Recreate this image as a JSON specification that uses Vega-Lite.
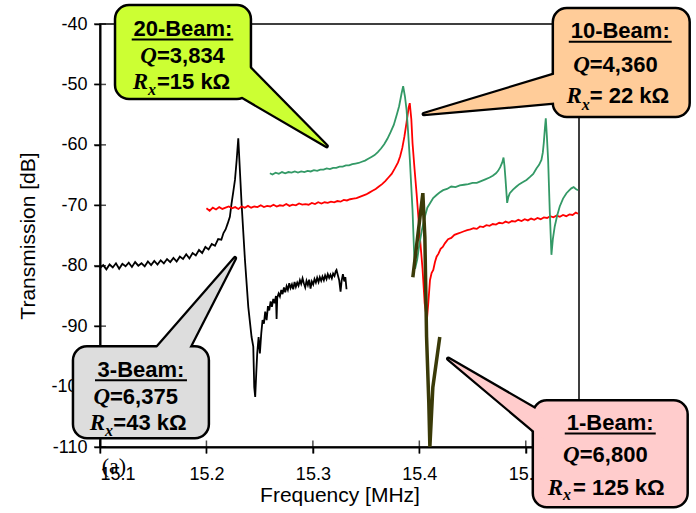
{
"$schema": "https://vega.github.io/schema/vega-lite/v6.json",
"width": 479, "height": 423,
"autosize": "none",
"padding": {"left": 100, "top": 24, "right": 117, "bottom": 66},
"background": "white",
"config": {
  "view": {"stroke": "black", "strokeWidth": 1.5},
  "axis": {"labelFont": "Liberation Sans", "labelFontSize": 18, "labelColor": "black", "titleFont": "Liberation Sans", "titleFontSize": 21, "titleFontWeight": "normal", "titleColor": "black", "domainColor": "black", "domainWidth": 2, "tickColor": "black", "tickWidth": 1.5, "tickSize": 6, "grid": false}
},
"datasets": {
  "beam3": [
    {"f":15.100,"db":-80.4},{"f":15.103,"db":-79.9},{"f":15.106,"db":-80.6},{"f":15.109,"db":-79.8},{"f":15.112,"db":-80.3},{"f":15.115,"db":-79.6},{"f":15.118,"db":-80.5},{"f":15.121,"db":-79.7},{"f":15.124,"db":-80.1},{"f":15.127,"db":-79.5},{"f":15.130,"db":-80.2},{"f":15.133,"db":-79.4},{"f":15.136,"db":-80.0},{"f":15.139,"db":-79.6},{"f":15.142,"db":-80.1},{"f":15.145,"db":-79.3},{"f":15.148,"db":-79.9},{"f":15.151,"db":-79.2},{"f":15.154,"db":-79.8},{"f":15.157,"db":-79.1},{"f":15.160,"db":-79.6},{"f":15.163,"db":-78.9},{"f":15.166,"db":-79.4},{"f":15.169,"db":-78.7},{"f":15.172,"db":-79.3},{"f":15.175,"db":-78.5},{"f":15.178,"db":-78.9},{"f":15.181,"db":-78.1},{"f":15.184,"db":-78.8},{"f":15.187,"db":-77.9},{"f":15.190,"db":-78.3},{"f":15.193,"db":-77.4},{"f":15.196,"db":-77.9},{"f":15.199,"db":-76.9},{"f":15.202,"db":-77.3},{"f":15.205,"db":-76.4},{"f":15.208,"db":-76.7},{"f":15.211,"db":-75.6},{"f":15.214,"db":-75.7},{"f":15.216,"db":-74.6},{"f":15.218,"db":-74.0},{"f":15.220,"db":-73.0},{"f":15.222,"db":-71.9},{"f":15.2236,"db":-69.7},{"f":15.2252,"db":-67.8},{"f":15.2268,"db":-65.8},{"f":15.2284,"db":-62.5},{"f":15.2299,"db":-58.9},
    {"f":15.2330,"db":-69.7},{"f":15.2362,"db":-79.1},{"f":15.2393,"db":-86.8},{"f":15.2424,"db":-91.8},{"f":15.2440,"db":-93.4},{"f":15.2449,"db":-100.1},{"f":15.2458,"db":-101.7},{"f":15.2468,"db":-97.8},{"f":15.2477,"db":-94.5},{"f":15.2490,"db":-91.8},{"f":15.2502,"db":-94.5},{"f":15.2515,"db":-91.2},{"f":15.2527,"db":-89.0},{"f":15.2540,"db":-89.6},{"f":15.2552,"db":-87.6},{"f":15.2565,"db":-89.0},{"f":15.2578,"db":-86.7},{"f":15.2590,"db":-87.4},{"f":15.2603,"db":-85.9},{"f":15.2615,"db":-86.8},{"f":15.2628,"db":-85.5},{"f":15.2640,"db":-86.2},{"f":15.2653,"db":-85.0},{"f":15.2659,"db":-88.8},{"f":15.2665,"db":-85.3},{"f":15.2678,"db":-84.6},{"f":15.2690,"db":-85.1},{"f":15.2703,"db":-84.0},{"f":15.2715,"db":-84.7},{"f":15.2728,"db":-83.6},{"f":15.2740,"db":-84.4},{"f":15.2753,"db":-83.4},{"f":15.2765,"db":-84.0},{"f":15.2778,"db":-82.9},{"f":15.2790,"db":-83.7},{"f":15.2803,"db":-83.1},{"f":15.2815,"db":-83.9},{"f":15.2828,"db":-82.7},{"f":15.2840,"db":-83.5},{"f":15.2853,"db":-82.8},{"f":15.2865,"db":-83.3},{"f":15.2878,"db":-82.4},{"f":15.2890,"db":-83.0},{"f":15.2903,"db":-82.1},{"f":15.2915,"db":-82.9},{"f":15.2928,"db":-83.6},{"f":15.2940,"db":-82.5},{"f":15.2953,"db":-83.2},{"f":15.2965,"db":-82.3},{"f":15.2978,"db":-83.8},{"f":15.2990,"db":-82.6},{"f":15.3003,"db":-83.1},{"f":15.3015,"db":-82.2},{"f":15.3028,"db":-82.8},{"f":15.3040,"db":-82.0},{"f":15.3053,"db":-82.7},{"f":15.3065,"db":-81.9},{"f":15.3078,"db":-82.5},{"f":15.3090,"db":-81.8},{"f":15.3103,"db":-82.4},{"f":15.3115,"db":-81.6},{"f":15.3128,"db":-82.2},{"f":15.3140,"db":-81.4},{"f":15.3153,"db":-82.0},{"f":15.3165,"db":-81.5},{"f":15.3178,"db":-82.1},{"f":15.3190,"db":-81.3},{"f":15.3203,"db":-81.7},{"f":15.3215,"db":-80.9},{"f":15.3222,"db":-80.7},{"f":15.3235,"db":-81.6},{"f":15.3247,"db":-82.4},{"f":15.3260,"db":-84.3},{"f":15.3270,"db":-82.5},{"f":15.3282,"db":-81.4},{"f":15.3295,"db":-82.6},{"f":15.3305,"db":-81.9},{"f":15.3316,"db":-83.9}
  ],
  "beam10": [
    {"f":15.200,"db":-70.5},{"f":15.203,"db":-70.9},{"f":15.206,"db":-70.4},{"f":15.209,"db":-70.7},{"f":15.212,"db":-70.3},{"f":15.215,"db":-70.6},{"f":15.218,"db":-70.4},{"f":15.221,"db":-70.2},{"f":15.224,"db":-70.5},{"f":15.227,"db":-70.3},{"f":15.230,"db":-70.6},{"f":15.233,"db":-70.2},{"f":15.236,"db":-70.4},{"f":15.239,"db":-70.1},{"f":15.242,"db":-70.4},{"f":15.245,"db":-70.2},{"f":15.248,"db":-70.3},{"f":15.251,"db":-70.0},{"f":15.254,"db":-70.3},{"f":15.257,"db":-70.1},{"f":15.260,"db":-70.2},{"f":15.263,"db":-69.9},{"f":15.266,"db":-70.2},{"f":15.269,"db":-70.0},{"f":15.272,"db":-70.1},{"f":15.275,"db":-69.8},{"f":15.278,"db":-70.1},{"f":15.281,"db":-69.9},{"f":15.284,"db":-70.0},{"f":15.287,"db":-69.7},{"f":15.290,"db":-69.9},{"f":15.293,"db":-69.8},{"f":15.296,"db":-69.9},{"f":15.299,"db":-69.6},{"f":15.302,"db":-69.8},{"f":15.305,"db":-69.5},{"f":15.308,"db":-69.7},{"f":15.311,"db":-69.5},{"f":15.314,"db":-69.6},{"f":15.317,"db":-69.4},{"f":15.320,"db":-69.5},{"f":15.323,"db":-69.3},{"f":15.326,"db":-69.4},{"f":15.329,"db":-69.1},{"f":15.332,"db":-69.2},{"f":15.335,"db":-69.0},{"f":15.338,"db":-68.9},{"f":15.341,"db":-68.8},{"f":15.344,"db":-68.6},{"f":15.347,"db":-68.4},{"f":15.350,"db":-68.2},{"f":15.353,"db":-67.9},{"f":15.356,"db":-67.6},{"f":15.359,"db":-67.3},{"f":15.362,"db":-66.9},{"f":15.365,"db":-66.5},{"f":15.368,"db":-66.0},{"f":15.371,"db":-65.4},{"f":15.374,"db":-64.8},{"f":15.377,"db":-63.9},{"f":15.380,"db":-62.9},{"f":15.382,"db":-61.9},{"f":15.384,"db":-60.5},{"f":15.386,"db":-58.6},{"f":15.388,"db":-56.3},{"f":15.390,"db":-53.8},{"f":15.391,"db":-53.1},{"f":15.3925,"db":-55.8},{"f":15.3936,"db":-59.7},{"f":15.3955,"db":-64.0},{"f":15.3974,"db":-68.0},{"f":15.4005,"db":-75.2},{"f":15.403,"db":-80.5},{"f":15.405,"db":-86.2},{"f":15.4071,"db":-89.0},{"f":15.4085,"db":-86.0},{"f":15.410,"db":-82.4},{"f":15.4115,"db":-81.2},{"f":15.4131,"db":-80.7},{"f":15.4147,"db":-79.4},{"f":15.4162,"db":-78.5},{"f":15.418,"db":-78.0},{"f":15.420,"db":-77.2},{"f":15.422,"db":-76.9},{"f":15.424,"db":-76.3},{"f":15.427,"db":-75.6},{"f":15.430,"db":-75.4},{"f":15.433,"db":-74.9},{"f":15.436,"db":-74.7},{"f":15.439,"db":-74.5},{"f":15.442,"db":-74.3},{"f":15.445,"db":-74.1},{"f":15.448,"db":-74.0},{"f":15.451,"db":-73.8},{"f":15.454,"db":-73.9},{"f":15.457,"db":-73.5},{"f":15.460,"db":-73.6},{"f":15.463,"db":-73.3},{"f":15.466,"db":-73.4},{"f":15.469,"db":-73.1},{"f":15.472,"db":-73.2},{"f":15.475,"db":-72.9},{"f":15.478,"db":-73.0},{"f":15.481,"db":-72.7},{"f":15.484,"db":-72.9},{"f":15.487,"db":-72.6},{"f":15.490,"db":-72.7},{"f":15.493,"db":-72.4},{"f":15.496,"db":-72.6},{"f":15.499,"db":-72.3},{"f":15.502,"db":-72.5},{"f":15.505,"db":-72.2},{"f":15.508,"db":-72.4},{"f":15.511,"db":-72.1},{"f":15.514,"db":-72.3},{"f":15.517,"db":-72.0},{"f":15.520,"db":-72.1},{"f":15.523,"db":-71.8},{"f":15.526,"db":-72.0},{"f":15.529,"db":-71.7},{"f":15.532,"db":-71.9},{"f":15.535,"db":-71.6},{"f":15.538,"db":-71.8},{"f":15.541,"db":-71.5},{"f":15.544,"db":-71.6},{"f":15.547,"db":-71.2},{"f":15.549,"db":-71.4}
  ],
  "beam20": [
    {"f":15.2596,"db":-64.7},{"f":15.262,"db":-64.9},{"f":15.265,"db":-64.6},{"f":15.268,"db":-64.8},{"f":15.271,"db":-64.5},{"f":15.274,"db":-64.7},{"f":15.277,"db":-64.5},{"f":15.280,"db":-64.6},{"f":15.283,"db":-64.4},{"f":15.286,"db":-64.6},{"f":15.289,"db":-64.4},{"f":15.292,"db":-64.5},{"f":15.295,"db":-64.3},{"f":15.298,"db":-64.4},{"f":15.301,"db":-64.2},{"f":15.304,"db":-64.3},{"f":15.307,"db":-64.1},{"f":15.310,"db":-64.1},{"f":15.313,"db":-63.9},{"f":15.316,"db":-64.0},{"f":15.319,"db":-63.8},{"f":15.322,"db":-63.8},{"f":15.325,"db":-63.6},{"f":15.328,"db":-63.6},{"f":15.331,"db":-63.4},{"f":15.334,"db":-63.4},{"f":15.337,"db":-63.2},{"f":15.340,"db":-63.1},{"f":15.343,"db":-63.0},{"f":15.346,"db":-62.8},{"f":15.349,"db":-62.6},{"f":15.352,"db":-62.3},{"f":15.355,"db":-62.0},{"f":15.358,"db":-61.7},{"f":15.361,"db":-61.2},{"f":15.364,"db":-60.6},{"f":15.367,"db":-59.9},{"f":15.370,"db":-59.0},{"f":15.373,"db":-57.9},{"f":15.376,"db":-56.7},{"f":15.379,"db":-54.9},{"f":15.381,"db":-53.6},{"f":15.3833,"db":-51.5},{"f":15.3848,"db":-50.3},{"f":15.3865,"db":-52.0},{"f":15.388,"db":-54.2},{"f":15.3895,"db":-58.0},{"f":15.3911,"db":-62.5},{"f":15.3936,"db":-70.8},{"f":15.3951,"db":-77.9},{"f":15.396,"db":-80.5},{"f":15.398,"db":-79.0},{"f":15.400,"db":-76.5},{"f":15.4025,"db":-74.0},{"f":15.4052,"db":-71.9},{"f":15.4075,"db":-70.4},{"f":15.4099,"db":-69.7},{"f":15.413,"db":-68.8},{"f":15.4162,"db":-68.3},{"f":15.419,"db":-67.9},{"f":15.4224,"db":-67.5},{"f":15.426,"db":-67.3},{"f":15.430,"db":-66.9},{"f":15.434,"db":-67.0},{"f":15.438,"db":-66.7},{"f":15.442,"db":-66.6},{"f":15.446,"db":-66.5},{"f":15.450,"db":-66.3},{"f":15.454,"db":-66.3},{"f":15.458,"db":-66.0},{"f":15.462,"db":-65.7},{"f":15.466,"db":-65.4},{"f":15.469,"db":-65.1},{"f":15.472,"db":-64.7},{"f":15.474,"db":-64.3},{"f":15.476,"db":-63.7},{"f":15.4779,"db":-62.9},{"f":15.4791,"db":-62.1},{"f":15.4800,"db":-63.5},{"f":15.481,"db":-65.8},{"f":15.4825,"db":-69.6},{"f":15.4837,"db":-68.6},{"f":15.485,"db":-68.0},{"f":15.488,"db":-67.4},{"f":15.4913,"db":-66.9},{"f":15.494,"db":-66.5},{"f":15.497,"db":-66.2},{"f":15.5007,"db":-65.8},{"f":15.504,"db":-65.3},{"f":15.507,"db":-64.8},{"f":15.510,"db":-63.9},{"f":15.5125,"db":-63.3},{"f":15.5147,"db":-62.5},{"f":15.5160,"db":-61.3},{"f":15.5169,"db":-59.7},{"f":15.5180,"db":-57.2},{"f":15.5188,"db":-55.6},{"f":15.5198,"db":-58.5},{"f":15.521,"db":-62.5},{"f":15.5225,"db":-70.8},{"f":15.5241,"db":-78.2},{"f":15.5255,"db":-75.5},{"f":15.5272,"db":-73.5},{"f":15.5295,"db":-71.7},{"f":15.5319,"db":-70.2},{"f":15.535,"db":-68.9},{"f":15.5382,"db":-68.0},{"f":15.541,"db":-67.5},{"f":15.5428,"db":-67.2},{"f":15.545,"db":-67.0},{"f":15.547,"db":-67.3},{"f":15.5491,"db":-67.5}
  ],
  "beam1": [
    {"f":15.3939,"db":-81.9},{"f":15.4033,"db":-68.0},{"f":15.4052,"db":-75.3},{"f":15.4068,"db":-91.8},{"f":15.4089,"db":-102.7},{"f":15.4099,"db":-110.0},{"f":15.4127,"db":-100.1},{"f":15.4192,"db":-91.8}
  ],
  "xticks": [{"f":15.1,"db":-110},{"f":15.2,"db":-110},{"f":15.3,"db":-110},{"f":15.4,"db":-110},{"f":15.5,"db":-110}],
  "yticks": [{"f":15.1,"db":-40},{"f":15.1,"db":-50},{"f":15.1,"db":-60},{"f":15.1,"db":-70},{"f":15.1,"db":-80},{"f":15.1,"db":-90},{"f":15.1,"db":-100},{"f":15.1,"db":-110}],
  "boxes": [
    {"box":"20-Beam","f":15.1141,"f2":15.2418,"db":-36.85,"db2":-52.42},
    {"box":"10-Beam","f":15.5254,"f2":15.654,"db":-37.35,"db2":-55.4},
    {"box":"3-Beam","f":15.0746,"f2":15.2023,"db":-93.32,"db2":-108.55},
    {"box":"1-Beam","f":15.5066,"f2":15.6521,"db":-102.26,"db2":-119.98}
  ],
  "pointers": [
    {"box":"20-Beam","i":0,"f":15.3129,"db":-60.2},{"box":"20-Beam","i":1,"f":15.2352,"db":-46.29},{"box":"20-Beam","i":2,"f":15.2277,"db":-51.43},
    {"box":"10-Beam","i":0,"f":15.4042,"db":-54.9},{"box":"10-Beam","i":1,"f":15.5319,"db":-48.11},{"box":"10-Beam","i":2,"f":15.5319,"db":-52.92},
    {"box":"3-Beam","i":0,"f":15.2268,"db":-78.75},{"box":"3-Beam","i":1,"f":15.1817,"db":-94.31},{"box":"3-Beam","i":2,"f":15.1498,"db":-94.31},
    {"box":"1-Beam","i":0,"f":15.4272,"db":-95.39},{"box":"1-Beam","i":1,"f":15.5141,"db":-104.25},{"box":"1-Beam","i":2,"f":15.5216,"db":-109.38}
  ],
  "underlines": [
    {"f":15.1298,"f2":15.2252,"db":-42.57},
    {"f":15.5404,"f2":15.6371,"db":-42.93},
    {"f":15.0953,"f2":15.1817,"db":-98.95},
    {"f":15.5366,"f2":15.6221,"db":-107.78}
  ],
  "labels": [
    {"k":"title","f":15.1779,"db":-41.99,"t":"20-Beam:"},
    {"k":"sym","f":15.1535,"db":-46.46,"t":"Q"},
    {"k":"val","f":15.1535,"db":-46.46,"t":"=3,834"},
    {"k":"sym","f":15.1451,"db":-50.76,"t":"R"},
    {"k":"sub","f":15.1451,"db":-51.76,"t":"x"},
    {"k":"val","f":15.1535,"db":-50.76,"t":"=15 kΩ"},
    {"k":"title","f":15.5887,"db":-42.37,"t":"10-Beam:"},
    {"k":"sym","f":15.5601,"db":-47.9,"t":"Q"},
    {"k":"val","f":15.5601,"db":-47.9,"t":"=4,360"},
    {"k":"sym","f":15.5526,"db":-53.13,"t":"R"},
    {"k":"sub","f":15.5526,"db":-54.24,"t":"x"},
    {"k":"val","f":15.5601,"db":-53.13,"t":"= 22 kΩ"},
    {"k":"title","f":15.1385,"db":-98.4,"t":"3-Beam:"},
    {"k":"sym","f":15.1094,"db":-102.81,"t":"Q"},
    {"k":"val","f":15.1094,"db":-102.81,"t":"=6,375"},
    {"k":"sym","f":15.1047,"db":-107.11,"t":"R"},
    {"k":"sub","f":15.1047,"db":-108.22,"t":"x"},
    {"k":"val","f":15.1125,"db":-107.11,"t":"=43 kΩ"},
    {"k":"title","f":15.5793,"db":-107.23,"t":"1-Beam:"},
    {"k":"sym","f":15.5507,"db":-112.48,"t":"Q"},
    {"k":"val","f":15.5507,"db":-112.48,"t":"=6,800"},
    {"k":"sym","f":15.535,"db":-117.99,"t":"R"},
    {"k":"sub","f":15.535,"db":-118.82,"t":"x"},
    {"k":"val","f":15.5444,"db":-117.99,"t":"= 125 kΩ"},
    {"k":"note","f":15.1131,"db":-114.35,"t":"(a)"}
  ]
},
"encoding": {
  "x": {"field": "f", "type": "quantitative", "scale": {"domain": [15.1, 15.55], "nice": false, "zero": false},
        "axis": {"values": [15.1, 15.2, 15.3, 15.4, 15.5], "labelExpr": "'' + datum.value", "labelPadding": 12, "titlePadding": 1, "title": "Frequency [MHz]"}},
  "y": {"field": "db", "type": "quantitative", "scale": {"domain": [-110, -40], "nice": false, "zero": false},
        "axis": {"values": [-110, -100, -90, -80, -70, -60, -50, -40], "labelExpr": "'' + datum.value", "labelPadding": 7, "titlePadding": 12, "title": "Transmission [dB]"}}
},
"layer": [
  {"data": {"name": "xticks"}, "mark": {"type": "tick", "orient": "vertical", "size": 13, "thickness": 1.5, "color": "black"}},
  {"data": {"name": "yticks"}, "mark": {"type": "tick", "orient": "horizontal", "size": 12, "thickness": 1.5, "color": "black"}},
  {"data": {"name": "beam3"}, "mark": {"type": "line", "color": "black", "strokeWidth": 1.8}},
  {"data": {"name": "beam10"}, "mark": {"type": "line", "color": "#ff0000", "strokeWidth": 1.8}},
  {"data": {"name": "beam20"}, "mark": {"type": "line", "color": "#339966", "strokeWidth": 1.8}},
  {"data": {"name": "beam1"}, "mark": {"type": "line", "color": "#3a3a08", "strokeWidth": 3.5}},
  {"data": {"name": "pointers"}, "mark": {"type": "line", "interpolate": "linear-closed", "stroke": "black", "strokeWidth": 4.5, "strokeJoin": "round"},
   "encoding": {"order": {"field": "i"}, "fill": {"field": "box", "type": "nominal", "scale": {"domain": ["20-Beam", "10-Beam", "3-Beam", "1-Beam"], "range": ["#ccff33", "#ffcc99", "#dddddd", "#ffcccc"]}, "legend": null}}},
  {"data": {"name": "boxes"}, "mark": {"type": "rect", "stroke": "black", "strokeWidth": 2.5, "cornerRadius": 14},
   "encoding": {"x2": {"field": "f2"}, "y2": {"field": "db2"}, "fill": {"field": "box", "type": "nominal", "legend": null}}},
  {"data": {"name": "pointers"}, "mark": {"type": "line", "interpolate": "linear-closed", "strokeWidth": 0, "strokeOpacity": 0},
   "encoding": {"order": {"field": "i"}, "fill": {"field": "box", "type": "nominal", "legend": null}}},
  {"data": {"name": "underlines"}, "mark": {"type": "rule", "color": "black", "strokeWidth": 2},
   "encoding": {"x2": {"field": "f2"}}},
  {"data": {"name": "labels"}, "transform": [{"filter": "datum.k == 'title'"}],
   "mark": {"type": "text", "font": "Liberation Sans", "fontWeight": "bold", "fontSize": 22, "align": "center", "baseline": "alphabetic", "color": "black"},
   "encoding": {"text": {"field": "t"}}},
  {"data": {"name": "labels"}, "transform": [{"filter": "datum.k == 'val'"}],
   "mark": {"type": "text", "font": "Liberation Sans", "fontWeight": "bold", "fontSize": 22, "align": "left", "baseline": "alphabetic", "color": "black"},
   "encoding": {"text": {"field": "t"}}},
  {"data": {"name": "labels"}, "transform": [{"filter": "datum.k == 'sym'"}],
   "mark": {"type": "text", "font": "Liberation Serif", "fontStyle": "italic", "fontWeight": "bold", "fontSize": 23, "align": "right", "baseline": "alphabetic", "color": "black"},
   "encoding": {"text": {"field": "t"}}},
  {"data": {"name": "labels"}, "transform": [{"filter": "datum.k == 'sub'"}],
   "mark": {"type": "text", "font": "Liberation Serif", "fontStyle": "italic", "fontWeight": "bold", "fontSize": 16, "align": "left", "baseline": "alphabetic", "color": "black"},
   "encoding": {"text": {"field": "t"}}},
  {"data": {"name": "labels"}, "transform": [{"filter": "datum.k == 'note'"}],
   "mark": {"type": "text", "font": "Liberation Serif", "fontSize": 22, "align": "center", "baseline": "alphabetic", "color": "black"},
   "encoding": {"text": {"field": "t"}}}
]
}
